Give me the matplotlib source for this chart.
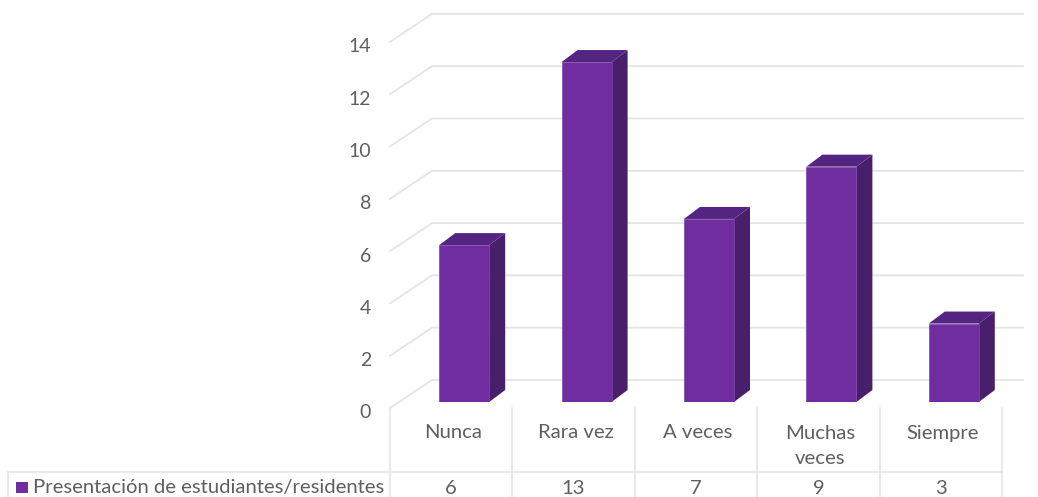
import matplotlib
matplotlib.use("Agg")
import matplotlib.pyplot as plt
from matplotlib.patches import Polygon, Rectangle

plt.rcParams['font.family'] = ['Lato', 'DejaVu Sans']

categories = ['Nunca', 'Rara vez', 'A veces', 'Muchas\nveces', 'Siempre']
values = [6, 13, 7, 9, 3]
y_ticks = [0, 2, 4, 6, 8, 10, 12, 14]
series_name = 'Presentación de estudiantes/residentes'

W, H = 1038, 497
# plot frame in pixels: x 0..5 is the table width, y 0 is the bar base
X0, X1 = 390, 1002
Y0, UNIT = 402, 26.15
BACK_X0, BACK_X1 = 432, 1023
GRID = '#e4e4e4'
TEXT = '#5f5f5f'
FRONT, SIDE, TOP = '#6f2da0', '#471f6b', '#532580'
FS = 14.6

fig = plt.figure(figsize=(W / 100, H / 100), dpi=100)
ax = fig.add_axes([X0 / W, (H - Y0) / H, (X1 - X0) / W, 14 * UNIT / H])
ax.set_xlim(0, 5)
ax.set_ylim(0, 14)
ax.axis('off')

col = (X1 - X0) / 5
px_x = 1 / col
px_y = 1 / UNIT

# walls
for v in y_ticks:
    back = v + (Y0 - 380) * px_y
    front = v + (Y0 - 408) * px_y
    bx0 = (BACK_X0 - X0) * px_x
    bx1 = (BACK_X1 - X0) * px_x
    ax.plot([0, bx0, bx1], [front, back, back], color=GRID, lw=1.3,
            clip_on=False, zorder=1, solid_joinstyle='miter')
    ax.text(-19 * px_x, v + (Y0 - 411.5) * px_y, str(v), ha='right', va='center_baseline',
            fontsize=14, color=TEXT, clip_on=False)

# bars, the 3d faces are offset from the front one
bar_w = 50 * px_x
dx = 16 * px_x
dy = 12 * px_y
shift = 13 * px_x
centers = [i + 0.5 + shift for i in range(len(values))]
ax.bar(centers, values, width=bar_w, color=FRONT, edgecolor='#7d45ab', lw=0.5, zorder=3)
for c, v in zip(centers, values):
    l, r = c - bar_w / 2, c + bar_w / 2
    ax.add_patch(Polygon([(r, 0), (r + dx, dy), (r + dx, v + dy), (r, v)],
                         closed=True, fc=SIDE, ec='none', zorder=2))
    ax.add_patch(Polygon([(l, v), (l + dx, v + dy), (r + dx, v + dy), (r, v)],
                         closed=True, fc=TOP, ec='none', zorder=2))

# data table under the chart
table_top = -(472 - Y0) * px_y
table_start = -(408 - Y0) * px_y
table_end = -(H - Y0) * px_y
legend_x = (8 - X0) * px_x
for i in range(len(values) + 1):
    ax.plot([i, i], [table_start, table_end], color=GRID, lw=1.1, clip_on=False, zorder=1)
ax.plot([legend_x, 5], [table_top, table_top], color=GRID, lw=1.1, clip_on=False, zorder=1)
ax.plot([legend_x, legend_x], [table_top, table_end], color=GRID, lw=1.1, clip_on=False, zorder=1)

for i, (name, v) in enumerate(zip(categories, values)):
    ax.text(i + 0.5 + 2 * px_x, -(433 - Y0) * px_y if '\n' not in name else -(446 - Y0) * px_y, name,
            ha='center', va='center', fontsize=FS, color=TEXT, clip_on=False,
            linespacing=1.55)
    ax.text(i + 0.5, -(489 - Y0) * px_y, str(v), ha='center', va='center', fontsize=FS,
            color=TEXT, clip_on=False)

ax.add_patch(Rectangle(((16 - X0) * px_x, -(493 - Y0) * px_y), 12 * px_x, 11 * px_y,
                       fc=FRONT, ec='none', clip_on=False))
ax.text((33 - X0) * px_x, -(488 - Y0) * px_y, series_name, ha='left', va='center',
        fontsize=FS, color=TEXT, clip_on=False)

fig.savefig('out.png', dpi=100)
